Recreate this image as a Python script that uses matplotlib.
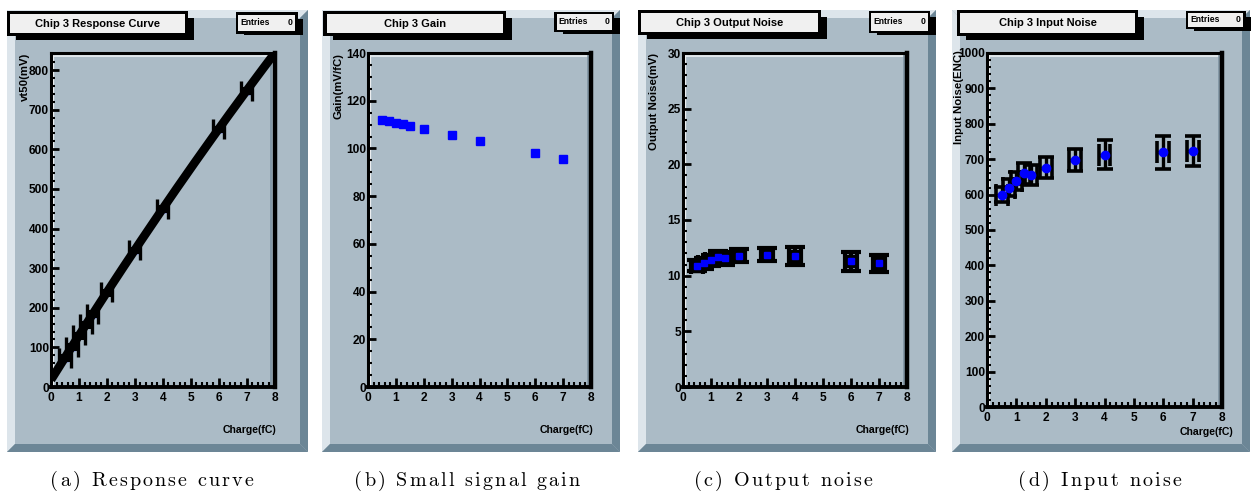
import numpy as np
import matplotlib
matplotlib.use("Agg")
import matplotlib.pyplot as plt
from matplotlib.patches import Rectangle, Polygon
from matplotlib.ticker import MultipleLocator
from matplotlib.font_manager import findfont, FontProperties
from matplotlib.ft2font import FT2Font

plt.rcParams['font.family'] = ['Liberation Sans', 'DejaVu Sans']
plt.rcParams['font.weight'] = 'bold'

W, H, DPI = 1252, 495, 100

# ---- measurements ----------------------------------------------------------
charge = [0.5, 0.75, 1.0, 1.25, 1.5, 2.0, 3.0, 4.0, 6.0, 7.0]
charge_err = [0.2, 0.2, 0.2, 0.2, 0.2, 0.2, 0.2, 0.2, 0.2, 0.2]

vt50 = [74, 102, 130, 158, 185, 239, 346, 450, 651, 748]
vt50_err = [6, 6, 6, 6, 6, 6, 6, 6, 6, 6]

gain = [112.0, 111.4, 110.6, 110.3, 109.3, 108.2, 105.6, 103.1, 97.9, 95.4]

out_noise = [10.9, 11.1, 11.4, 11.7, 11.55, 11.8, 11.9, 11.8, 11.3, 11.1]
out_noise_err = [0.5, 0.5, 0.5, 0.55, 0.55, 0.6, 0.6, 0.8, 0.85, 0.75]

in_noise = [600, 619, 638, 660, 655, 676, 698, 713, 719, 723]
in_noise_err = [22, 24, 26, 30, 28, 30, 30, 40, 47, 42]

titles = ["Chip 3 Response Curve", "Chip 3 Gain", "Chip 3 Output Noise", "Chip 3 Input Noise"]
ylabels = ["vt50(mV)", "Gain(mV/fC)", "Output Noise(mV)", "Input Noise(ENC)"]
xlabel = "Charge(fC)"
captions = ["(a) Response curve", "(b) Small signal gain", "(c) Output noise", "(d) Input noise"]

# ---- colours ---------------------------------------------------------------
PAD_FILL = '#abbbc6'
BEVEL_LIGHT = '#dde5eb'
BEVEL_DARK = '#6c8696'
BOX_FILL = '#f0f0f0'
MARK = '#0000ff'

# ---- pad layout (pixels) ---------------------------------------------------
pads = [
    dict(cx=(7, 308), frame=(51, 274.5, 53, 387), title=(10, 14, 185, 32.7),
         stats=(238, 14.5, 295, 31), ylab_x=25, ylab_top=53, xlab=(276.5, 430),
         cap=(152, 203), ylim=(0, 843), ymaj=100, ymin=20),
    dict(cx=(322, 620), frame=(368, 591, 53, 387), title=(326.7, 14, 502.7, 33),
         stats=(556.7, 14, 611.7, 29.5), ylab_x=339, ylab_top=53, xlab=(593, 430),
         cap=(467, 225), ylim=(0, 140), ymaj=20, ymin=5),
    dict(cx=(638, 936), frame=(683, 907, 53, 387), title=(641, 13, 817.7, 32),
         stats=(871, 13.3, 927.7, 30.7), ylab_x=654, ylab_top=53, xlab=(909, 430),
         cap=(783, 179), ylim=(0, 30), ymaj=5, ymin=1),
    dict(cx=(952, 1250), frame=(987, 1222, 53, 407), title=(960, 13, 1135, 33),
         stats=(1188, 13, 1243, 26.5), ylab_x=959, ylab_top=50, xlab=(1233, 432),
         cap=(1100, 163), ylim=(0, 1000), ymaj=100, ymin=20),
]

PAD_TOP, PAD_BOT, BEV = 10, 452, 8
CAP_SIZE = 14.5

fig = plt.figure(figsize=(W / DPI, H / DPI), dpi=DPI)
fig.patch.set_facecolor('white')
bg = fig.add_axes([0, 0, 1, 1])
bg.set_xlim(0, W)
bg.set_ylim(H, 0)
bg.axis('off')


def draw_pad(x0, x1, y0, y1, b):
    bg.add_patch(Rectangle((x0, y0), x1 - x0, y1 - y0, fc=PAD_FILL, ec='none', zorder=0))
    bg.add_patch(Polygon([(x0, y0), (x0 + b, y0 + b), (x0 + b, y1 - b), (x0, y1)],
                         fc=BEVEL_LIGHT, ec='none', zorder=0.1))
    bg.add_patch(Polygon([(x0, y0), (x1, y0), (x1 - b, y0 + b), (x0 + b, y0 + b)],
                         fc=BEVEL_LIGHT, ec='none', zorder=0.1))
    bg.add_patch(Polygon([(x1, y0), (x1, y1), (x1 - b, y1 - b), (x1 - b, y0 + b)],
                         fc=BEVEL_DARK, ec='none', zorder=0.1))
    bg.add_patch(Polygon([(x0, y1), (x1, y1), (x1 - b, y1 - b), (x0 + b, y1 - b)],
                         fc=BEVEL_DARK, ec='none', zorder=0.1))


def draw_box(ix0, iy0, ix1, iy1, border, sh_dx, sh_dy):
    # drop shadow, black border, light interior
    bg.add_patch(Rectangle((ix0 + 6, iy0 + 4), (ix1 - ix0) + sh_dx - 6, (iy1 - iy0) + sh_dy - 4,
                           fc='black', ec='none', zorder=1))
    bg.add_patch(Rectangle((ix0 - border, iy0 - border), (ix1 - ix0) + 2 * border,
                           (iy1 - iy0) + 2 * border, fc='black', ec='none', zorder=1.1))
    bg.add_patch(Rectangle((ix0, iy0), ix1 - ix0, iy1 - iy0, fc=BOX_FILL, ec='none', zorder=1.2))


_cm_font = FT2Font(findfont(FontProperties(family='cmr10')))


def spaced_text(cx, y, text, target_w, size):
    # lay the caption out glyph by glyph with a little extra tracking
    _cm_font.set_size(size, DPI)
    em = size * DPI / 72.0
    adv = []
    for ch in text:
        if ch == ' ':
            adv.append(0.333 * em)
        else:
            g = _cm_font.load_char(ord(ch))
            adv.append(g.linearHoriAdvance / 65536.0)
    natural = sum(adv)
    gap = (target_w - natural) / max(len(text) - 1, 1)
    x = cx - target_w / 2.0
    for ch, a in zip(text, adv):
        if ch != ' ':
            bg.text(x, y, ch, fontsize=size, family='cmr10', fontweight='normal',
                    ha='left', va='baseline', zorder=3)
        x += a + gap


axes = []
for i, p in enumerate(pads):
    x0, x1 = p['cx']
    draw_pad(x0, x1, PAD_TOP, PAD_BOT, BEV)

    tx0, ty0, tx1, ty1 = p['title']
    draw_box(tx0, ty0, tx1, ty1, 3.3, 9, 7)
    bg.text((tx0 + tx1) / 2, (ty0 + ty1) / 2 + 0.5, titles[i], fontsize=8, ha='center',
            va='center', zorder=2)

    sx0, sy0, sx1, sy1 = p['stats']
    draw_box(sx0, sy0, sx1, sy1, 2.5, 8, 4)
    bg.text(sx0 + 2, (sy0 + sy1) / 2, "Entries", fontsize=6.2, ha='left', va='center', zorder=2)
    bg.text(sx1 - 2, (sy0 + sy1) / 2, "0", fontsize=6.2, ha='right', va='center', zorder=2)

    fx0, fx1, fy0, fy1 = p['frame']
    # frame bevel highlight along the top and left, shade along the right
    bg.plot([fx0 + 2, fx1 - 2], [fy0 + 2.6, fy0 + 2.6], color='#e6ecf0', lw=1.3, zorder=0.5,
            solid_capstyle='butt')
    bg.plot([fx0 + 2.4, fx0 + 2.4], [fy0 + 2, fy1 - 2], color='#f2f5f7', lw=1.6, zorder=0.5,
            solid_capstyle='butt')
    bg.plot([fx1 - 3.2, fx1 - 3.2], [fy0 + 2, fy1 - 2], color='#7e93a1', lw=1.2, zorder=0.5,
            solid_capstyle='butt')

    bg.text(p['ylab_x'], p['ylab_top'], ylabels[i], rotation=90, fontsize=8.2,
            ha='center', va='top', zorder=2)
    bg.text(p['xlab'][0], p['xlab'][1], xlabel, fontsize=7.6, ha='right', va='center', zorder=2)

    ax = fig.add_axes([fx0 / W, 1 - fy1 / H, (fx1 - fx0) / W, (fy1 - fy0) / H])
    ax.set_facecolor('none')
    ax.set_zorder(5)
    ax.set_xlim(0, 8)
    ax.set_ylim(*p['ylim'])
    ax.xaxis.set_major_locator(MultipleLocator(1))
    ax.xaxis.set_minor_locator(MultipleLocator(0.2))
    ax.yaxis.set_major_locator(MultipleLocator(p['ymaj']))
    ax.yaxis.set_minor_locator(MultipleLocator(p['ymin']))
    for side, lw in (('left', 2.2), ('bottom', 2.8), ('top', 2.2), ('right', 3.2)):
        ax.spines[side].set_linewidth(lw)
        ax.spines[side].set_color('black')
    ax.tick_params(axis='x', which='major', direction='in', length=6.5, width=2.0,
                   top=False, labelsize=8.6, pad=3.5)
    ax.tick_params(axis='x', which='minor', direction='in', length=3.6, width=1.5, top=False)
    ax.tick_params(axis='y', which='major', direction='in', length=5.5, width=2.0,
                   right=False, labelsize=8.6, pad=1.5)
    ax.tick_params(axis='y', which='minor', direction='in', length=3.2, width=1.5, right=False)
    for lab in ax.get_xticklabels() + ax.get_yticklabels():
        lab.set_fontweight('bold')
    axes.append(ax)

ax_a, ax_b, ax_c, ax_d = axes

# (a) response curve: points with errors and a quadratic fit drawn over them
ax_a.plot(charge, vt50, 's', color=MARK, ms=4, zorder=2)
coef = np.polyfit(charge, vt50, 2)
xf = np.linspace(0, 8, 200)
ax_a.plot(xf, np.polyval(coef, xf), color='black', lw=6.2, zorder=3, solid_capstyle='butt')
ax_a.errorbar(charge, vt50, xerr=charge_err, fmt='none', ecolor='black', elinewidth=2.2,
              capsize=7.5, capthick=2.4, zorder=4)
ax_a.errorbar(charge, vt50, yerr=vt50_err, fmt='none', ecolor='black', elinewidth=2.2,
              capsize=4, capthick=2.2, zorder=4)

# (b) small-signal gain
ax_b.plot(charge, gain, 's', color=MARK, ms=5.2, mec=MARK, zorder=3)

# (c) output noise
ax_c.errorbar(charge, out_noise, xerr=charge_err, fmt='none', ecolor='black', elinewidth=3.0,
              capsize=6.0, capthick=3.0, zorder=3)
ax_c.errorbar(charge, out_noise, yerr=out_noise_err, fmt='none', ecolor='black', elinewidth=3.0,
              capsize=7.0, capthick=3.0, zorder=3)
ax_c.plot(charge, out_noise, 's', color='black', ms=8.0, mec='black', zorder=3.5)
ax_c.plot(charge, out_noise, 's', color=MARK, ms=5.0, mec=MARK, zorder=4)

# (d) input noise
ax_d.errorbar(charge, in_noise, xerr=charge_err, fmt='none', ecolor='black', elinewidth=2.4,
              capsize=8, capthick=2.6, zorder=3)
ax_d.errorbar(charge, in_noise, yerr=in_noise_err, fmt='none', ecolor='black', elinewidth=2.4,
              capsize=6, capthick=2.6, zorder=3)
ax_d.plot(charge, in_noise, 'o', color=MARK, ms=6.0, mec=MARK, zorder=4)

for i, p in enumerate(pads):
    spaced_text(p['cap'][0], 486, captions[i], p['cap'][1], CAP_SIZE)

fig.savefig('out.png', dpi=DPI)
